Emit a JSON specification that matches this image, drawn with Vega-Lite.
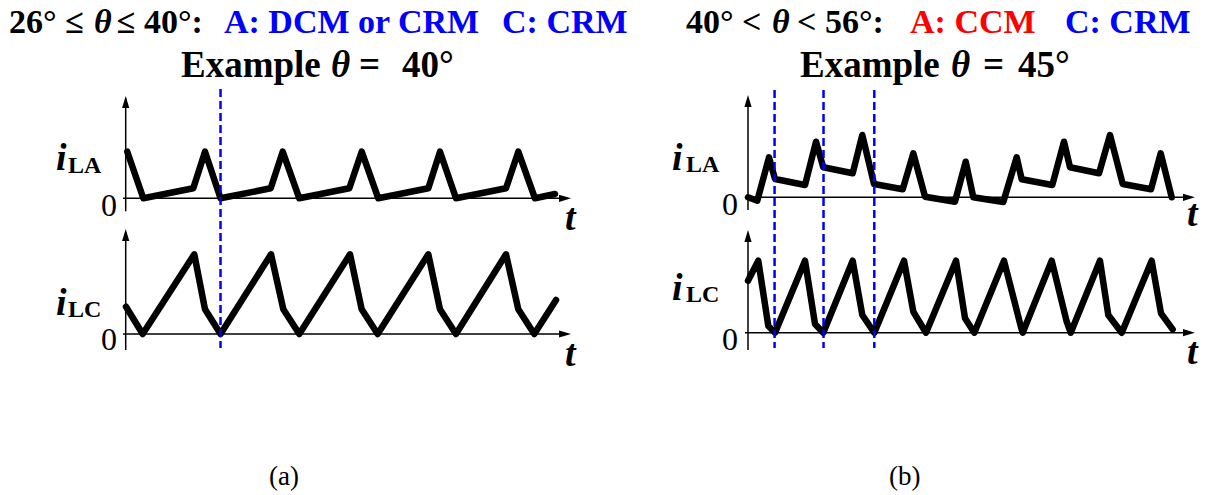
{
  "$schema": "https://vega.github.io/schema/vega-lite/v6.json",
  "width": 1209,
  "height": 495,
  "autosize": "none",
  "padding": 0,
  "background": "white",
  "config": {"view": {"stroke": null}, "text": {"font": "Times New Roman"}},
  "datasets": {
    "a_la": [{"t":0.02,"i":2.33},{"t":0.225,"i":0},{"t":0.863,"i":0.5},{"t":1.013,"i":2.33},{"t":1.211,"i":0},{"t":1.852,"i":0.5},{"t":2.005,"i":2.33},{"t":2.217,"i":0},{"t":2.856,"i":0.5},{"t":3.014,"i":2.33},{"t":3.226,"i":0},{"t":3.865,"i":0.5},{"t":4.014,"i":2.33},{"t":4.218,"i":0},{"t":4.857,"i":0.5},{"t":5.014,"i":2.33},{"t":5.227,"i":0},{"t":5.483,"i":0.215}],
    "a_lc": [{"t":0.004,"i":1.365},{"t":0.217,"i":0},{"t":0.876,"i":3.985},{"t":1.013,"i":1.235},{"t":1.211,"i":0},{"t":1.856,"i":3.985},{"t":2.013,"i":1.235},{"t":2.217,"i":0},{"t":2.865,"i":3.985},{"t":3.014,"i":1.235},{"t":3.218,"i":0},{"t":3.865,"i":3.985},{"t":4.014,"i":1.235},{"t":4.218,"i":0},{"t":4.857,"i":3.985},{"t":5.014,"i":1.235},{"t":5.218,"i":0},{"t":5.496,"i":1.7}],
    "b_la": [{"t":0,"i":0},{"t":0.189,"i":-0.17},{"t":0.427,"i":2.0},{"t":0.549,"i":0.915},{"t":1.159,"i":0.615},{"t":1.382,"i":2.78},{"t":1.53,"i":1.5},{"t":2.128,"i":1.2},{"t":2.323,"i":3.115},{"t":2.561,"i":0.665},{"t":3.144,"i":0.4},{"t":3.36,"i":2.2},{"t":3.598,"i":0.03},{"t":4.207,"i":-0.22},{"t":4.425,"i":1.78},{"t":4.579,"i":0},{"t":5.189,"i":-0.235},{"t":5.461,"i":2.0},{"t":5.563,"i":0.9},{"t":6.185,"i":0.615},{"t":6.423,"i":2.78},{"t":6.545,"i":1.5},{"t":7.134,"i":1.2},{"t":7.358,"i":3.115},{"t":7.616,"i":0.665},{"t":8.191,"i":0.4},{"t":8.388,"i":2.2},{"t":8.612,"i":0}],
    "b_lc": [{"t":0,"i":2.6},{"t":0.209,"i":3.6},{"t":0.413,"i":0.335},{"t":0.549,"i":0},{"t":1.159,"i":3.6},{"t":1.362,"i":0.435},{"t":1.53,"i":0},{"t":2.128,"i":3.6},{"t":2.323,"i":0.885},{"t":2.567,"i":0},{"t":3.171,"i":3.6},{"t":3.36,"i":1.05},{"t":3.618,"i":0},{"t":4.228,"i":3.6},{"t":4.411,"i":0.72},{"t":4.6,"i":0},{"t":5.203,"i":3.6},{"t":5.543,"i":0.335},{"t":5.583,"i":0},{"t":6.173,"i":3.6},{"t":6.478,"i":0.55},{"t":6.559,"i":0},{"t":7.154,"i":3.6},{"t":7.323,"i":0.885},{"t":7.596,"i":0},{"t":8.205,"i":3.6},{"t":8.394,"i":0.97},{"t":8.632,"i":0.17}]
  },
  "resolve": {"scale": {"x": "independent", "y": "independent"}},
  "layer": [
    {
      "encoding": {
        "x": {"field": "t", "type": "quantitative", "scale": {"domain": [-1.60536, 13.83525], "nice": false, "zero": false}, "axis": null},
        "y": {"field": "i", "type": "quantitative", "scale": {"domain": [-14.835, 9.915], "nice": false, "zero": false}, "axis": null}
      },
      "layer": [
        {"data": {"values": [{"t": -0.034, "i": 0, "t2": 5.62, "i2": 0}, {"t": 0, "i": -0.65, "t2": 0, "i2": 5.0}]},
         "mark": {"type": "rule", "color": "black", "strokeWidth": 1.5},
         "encoding": {"x2": {"field": "t2"}, "y2": {"field": "i2"}}},
        {"data": {"values": [{"t": 0, "i": 4.815}]},
         "mark": {"type": "point", "shape": "M0,-1L0.6,1L-0.6,1Z", "filled": true, "size": 144, "color": "black", "opacity": 1, "strokeWidth": 0}},
        {"data": {"values": [{"t": 5.611, "i": 0}]},
         "mark": {"type": "point", "shape": "M1,0L-1,0.6L-1,-0.6Z", "filled": true, "size": 144, "color": "black", "opacity": 1, "strokeWidth": 0}},
        {"data": {"name": "a_la"},
         "mark": {"type": "line", "color": "black", "strokeWidth": 6.5, "strokeJoin": "round", "strokeCap": "round"}},
        {"data": {"values": [{"t": -1.49, "i": 8.265, "s": "26° ≤"}, {"t": -0.113, "i": 8.265, "s": "≤ 40°:"}]},
         "mark": {"type": "text", "align": "left", "baseline": "alphabetic", "font": "Times New Roman", "fontSize": 34, "fontWeight": "bold", "color": "black"},
         "encoding": {"text": {"field": "s"}}},
        {"data": {"values": [{"t": 0.706, "i": 6.065, "s": "Example"}, {"t": 2.98, "i": 6.065, "s": "="}, {"t": 3.529, "i": 6.065, "s": "40°"}]},
         "mark": {"type": "text", "align": "left", "baseline": "alphabetic", "font": "Times New Roman", "fontSize": 37, "fontWeight": "bold", "color": "black"},
         "encoding": {"text": {"field": "s"}}},
        {"data": {"values": [{"t": -0.405, "i": 8.265, "s": "θ"}]},
         "mark": {"type": "text", "align": "left", "baseline": "alphabetic", "font": "Times New Roman", "fontSize": 34, "fontWeight": "bold", "fontStyle": "italic", "color": "black"},
         "encoding": {"text": {"field": "s"}}},
        {"data": {"values": [{"t": 2.622, "i": 6.065, "s": "θ"}]},
         "mark": {"type": "text", "align": "left", "baseline": "alphabetic", "font": "Times New Roman", "fontSize": 37, "fontWeight": "bold", "fontStyle": "italic", "color": "black"},
         "encoding": {"text": {"field": "s"}}},
        {"data": {"values": [{"t": 1.255, "i": 8.265, "s": "A: DCM or CRM"}, {"t": 4.806, "i": 8.265, "s": "C: CRM"}]},
         "mark": {"type": "text", "align": "left", "baseline": "alphabetic", "font": "Times New Roman", "fontSize": 34, "fontWeight": "bold", "color": "#0000FF"},
         "encoding": {"text": {"field": "s"}}},
        {"data": {"values": [{"t": -0.89, "i": 1.415, "s": "i"}, {"t": 5.611, "i": -1.585, "s": "t"}]},
         "mark": {"type": "text", "align": "left", "baseline": "alphabetic", "font": "Times New Roman", "fontSize": 38, "fontWeight": "bold", "fontStyle": "italic", "color": "black"},
         "encoding": {"text": {"field": "s"}}},
        {"data": {"values": [{"t": -0.737, "i": 1.265, "s": "LA"}]},
         "mark": {"type": "text", "align": "left", "baseline": "alphabetic", "font": "Times New Roman", "fontSize": 24, "fontWeight": "bold", "color": "black"},
         "encoding": {"text": {"field": "s"}}},
        {"data": {"values": [{"t": -0.315, "i": -0.885, "s": "0"}]},
         "mark": {"type": "text", "align": "left", "baseline": "alphabetic", "font": "Times New Roman", "fontSize": 32, "color": "black"},
         "encoding": {"text": {"field": "s"}}}
      ]
    },
    {
      "encoding": {
        "x": {"field": "t", "type": "quantitative", "scale": {"domain": [-1.60536, 13.83525], "nice": false, "zero": false}, "axis": null},
        "y": {"field": "i", "type": "quantitative", "scale": {"domain": [-8.05, 16.7], "nice": false, "zero": false}, "axis": null}
      },
      "layer": [
        {"data": {"values": [{"t": -0.034, "i": 0, "t2": 5.62, "i2": 0}, {"t": 0, "i": -0.8, "t2": 0, "i2": 5.1}]},
         "mark": {"type": "rule", "color": "black", "strokeWidth": 1.5},
         "encoding": {"x2": {"field": "t2"}, "y2": {"field": "i2"}}},
        {"data": {"values": [{"t": 0, "i": 4.95}]},
         "mark": {"type": "point", "shape": "M0,-1L0.6,1L-0.6,1Z", "filled": true, "size": 144, "color": "black", "opacity": 1, "strokeWidth": 0}},
        {"data": {"values": [{"t": 5.611, "i": 0}]},
         "mark": {"type": "point", "shape": "M1,0L-1,0.6L-1,-0.6Z", "filled": true, "size": 144, "color": "black", "opacity": 1, "strokeWidth": 0}},
        {"data": {"name": "a_lc"},
         "mark": {"type": "line", "color": "black", "strokeWidth": 6.5, "strokeJoin": "round", "strokeCap": "round"}},
        {"data": {"values": [{"t": 1.211, "i": 12.25, "t2": 1.211, "i2": -0.7}]},
         "mark": {"type": "rule", "color": "#0000FF", "strokeWidth": 2.5, "strokeDash": [8, 4]},
         "encoding": {"x2": {"field": "t2"}, "y2": {"field": "i2"}}},
        {"data": {"values": [{"t": -0.89, "i": 0.95, "s": "i"}, {"t": 5.611, "i": -1.6, "s": "t"}]},
         "mark": {"type": "text", "align": "left", "baseline": "alphabetic", "font": "Times New Roman", "fontSize": 38, "fontWeight": "bold", "fontStyle": "italic", "color": "black"},
         "encoding": {"text": {"field": "s"}}},
        {"data": {"values": [{"t": -0.737, "i": 0.85, "s": "LC"}]},
         "mark": {"type": "text", "align": "left", "baseline": "alphabetic", "font": "Times New Roman", "fontSize": 24, "fontWeight": "bold", "color": "black"},
         "encoding": {"text": {"field": "s"}}},
        {"data": {"values": [{"t": -0.315, "i": -0.8, "s": "0"}]},
         "mark": {"type": "text", "align": "left", "baseline": "alphabetic", "font": "Times New Roman", "fontSize": 32, "color": "black"},
         "encoding": {"text": {"field": "s"}}},
        {"data": {"values": [{"t": 1.83, "i": -7.55, "s": "(a)"}]},
         "mark": {"type": "text", "align": "left", "baseline": "alphabetic", "font": "Times New Roman", "fontSize": 27, "color": "black"},
         "encoding": {"text": {"field": "s"}}}
      ]
    },
    {
      "encoding": {
        "x": {"field": "t", "type": "quantitative", "scale": {"domain": [-15.20325, 9.36992], "nice": false, "zero": false}, "axis": null},
        "y": {"field": "i", "type": "quantitative", "scale": {"domain": [-14.885, 9.865], "nice": false, "zero": false}, "axis": null}
      },
      "layer": [
        {"data": {"values": [{"t": -0.061, "i": 0, "t2": 8.95, "i2": 0}, {"t": 0, "i": -0.635, "t2": 0, "i2": 4.9}]},
         "mark": {"type": "rule", "color": "black", "strokeWidth": 1.5},
         "encoding": {"x2": {"field": "t2"}, "y2": {"field": "i2"}}},
        {"data": {"values": [{"t": 0, "i": 4.815}]},
         "mark": {"type": "point", "shape": "M0,-1L0.6,1L-0.6,1Z", "filled": true, "size": 144, "color": "black", "opacity": 1, "strokeWidth": 0}},
        {"data": {"values": [{"t": 8.963, "i": 0}]},
         "mark": {"type": "point", "shape": "M1,0L-1,0.6L-1,-0.6Z", "filled": true, "size": 144, "color": "black", "opacity": 1, "strokeWidth": 0}},
        {"data": {"name": "b_la"},
         "mark": {"type": "line", "color": "black", "strokeWidth": 6.5, "strokeJoin": "round", "strokeCap": "round"}},
        {"data": {"values": [{"t": -1.26, "i": 8.215, "s": "40° <"}, {"t": 0.996, "i": 8.215, "s": "< 56°:"}]},
         "mark": {"type": "text", "align": "left", "baseline": "alphabetic", "font": "Times New Roman", "fontSize": 34, "fontWeight": "bold", "color": "black"},
         "encoding": {"text": {"field": "s"}}},
        {"data": {"values": [{"t": 1.057, "i": 6.015, "s": "Example"}, {"t": 4.776, "i": 6.015, "s": "="}, {"t": 5.488, "i": 6.015, "s": "45°"}]},
         "mark": {"type": "text", "align": "left", "baseline": "alphabetic", "font": "Times New Roman", "fontSize": 37, "fontWeight": "bold", "color": "black"},
         "encoding": {"text": {"field": "s"}}},
        {"data": {"values": [{"t": 0.488, "i": 8.215, "s": "θ"}]},
         "mark": {"type": "text", "align": "left", "baseline": "alphabetic", "font": "Times New Roman", "fontSize": 34, "fontWeight": "bold", "fontStyle": "italic", "color": "black"},
         "encoding": {"text": {"field": "s"}}},
        {"data": {"values": [{"t": 4.126, "i": 6.015, "s": "θ"}]},
         "mark": {"type": "text", "align": "left", "baseline": "alphabetic", "font": "Times New Roman", "fontSize": 37, "fontWeight": "bold", "fontStyle": "italic", "color": "black"},
         "encoding": {"text": {"field": "s"}}},
        {"data": {"values": [{"t": 3.293, "i": 8.215, "s": "A: CCM"}]},
         "mark": {"type": "text", "align": "left", "baseline": "alphabetic", "font": "Times New Roman", "fontSize": 34, "fontWeight": "bold", "color": "#FF0000"},
         "encoding": {"text": {"field": "s"}}},
        {"data": {"values": [{"t": 6.443, "i": 8.215, "s": "C: CRM"}]},
         "mark": {"type": "text", "align": "left", "baseline": "alphabetic", "font": "Times New Roman", "fontSize": 34, "fontWeight": "bold", "color": "#0000FF"},
         "encoding": {"text": {"field": "s"}}},
        {"data": {"values": [{"t": -1.545, "i": 1.365, "s": "i"}, {"t": 8.923, "i": -1.435, "s": "t"}]},
         "mark": {"type": "text", "align": "left", "baseline": "alphabetic", "font": "Times New Roman", "fontSize": 38, "fontWeight": "bold", "fontStyle": "italic", "color": "black"},
         "encoding": {"text": {"field": "s"}}},
        {"data": {"values": [{"t": -1.26, "i": 1.265, "s": "LA"}]},
         "mark": {"type": "text", "align": "left", "baseline": "alphabetic", "font": "Times New Roman", "fontSize": 24, "fontWeight": "bold", "color": "black"},
         "encoding": {"text": {"field": "s"}}},
        {"data": {"values": [{"t": -0.528, "i": -0.885, "s": "0"}]},
         "mark": {"type": "text", "align": "left", "baseline": "alphabetic", "font": "Times New Roman", "fontSize": 32, "color": "black"},
         "encoding": {"text": {"field": "s"}}}
      ]
    },
    {
      "encoding": {
        "x": {"field": "t", "type": "quantitative", "scale": {"domain": [-15.20325, 9.36992], "nice": false, "zero": false}, "axis": null},
        "y": {"field": "i", "type": "quantitative", "scale": {"domain": [-8.115, 16.635], "nice": false, "zero": false}, "axis": null}
      },
      "layer": [
        {"data": {"values": [{"t": -0.061, "i": 0, "t2": 8.95, "i2": 0}, {"t": 0, "i": -0.865, "t2": 0, "i2": 4.8}]},
         "mark": {"type": "rule", "color": "black", "strokeWidth": 1.5},
         "encoding": {"x2": {"field": "t2"}, "y2": {"field": "i2"}}},
        {"data": {"values": [{"t": 0, "i": 4.835}]},
         "mark": {"type": "point", "shape": "M0,-1L0.6,1L-0.6,1Z", "filled": true, "size": 144, "color": "black", "opacity": 1, "strokeWidth": 0}},
        {"data": {"values": [{"t": 8.963, "i": 0}]},
         "mark": {"type": "point", "shape": "M1,0L-1,0.6L-1,-0.6Z", "filled": true, "size": 144, "color": "black", "opacity": 1, "strokeWidth": 0}},
        {"data": {"name": "b_lc"},
         "mark": {"type": "line", "color": "black", "strokeWidth": 6.5, "strokeJoin": "round", "strokeCap": "round"}},
        {"data": {"values": [{"t": 0.54, "i": 12.135, "t2": 0.54, "i2": -0.765}, {"t": 1.535, "i": 12.135, "t2": 1.535, "i2": -0.765}, {"t": 2.567, "i": 12.135, "t2": 2.567, "i2": -0.765}]},
         "mark": {"type": "rule", "color": "#0000FF", "strokeWidth": 2.5, "strokeDash": [8, 4]},
         "encoding": {"x2": {"field": "t2"}, "y2": {"field": "i2"}}},
        {"data": {"values": [{"t": -1.545, "i": 1.635, "s": "i"}, {"t": 8.923, "i": -1.565, "s": "t"}]},
         "mark": {"type": "text", "align": "left", "baseline": "alphabetic", "font": "Times New Roman", "fontSize": 38, "fontWeight": "bold", "fontStyle": "italic", "color": "black"},
         "encoding": {"text": {"field": "s"}}},
        {"data": {"values": [{"t": -1.26, "i": 1.535, "s": "LC"}]},
         "mark": {"type": "text", "align": "left", "baseline": "alphabetic", "font": "Times New Roman", "fontSize": 24, "fontWeight": "bold", "color": "black"},
         "encoding": {"text": {"field": "s"}}},
        {"data": {"values": [{"t": -0.528, "i": -0.865, "s": "0"}]},
         "mark": {"type": "text", "align": "left", "baseline": "alphabetic", "font": "Times New Roman", "fontSize": 32, "color": "black"},
         "encoding": {"text": {"field": "s"}}},
        {"data": {"values": [{"t": 2.866, "i": -7.615, "s": "(b)"}]},
         "mark": {"type": "text", "align": "left", "baseline": "alphabetic", "font": "Times New Roman", "fontSize": 27, "color": "black"},
         "encoding": {"text": {"field": "s"}}}
      ]
    }
  ]
}
